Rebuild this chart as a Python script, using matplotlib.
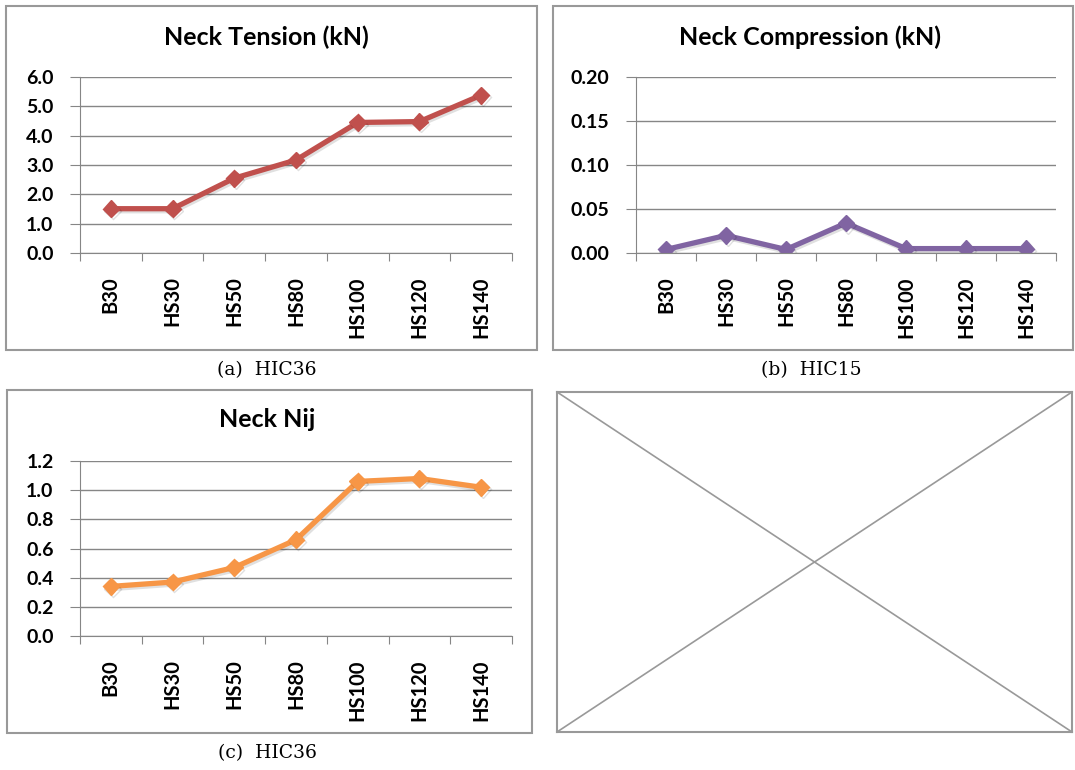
import numpy as np
import matplotlib
matplotlib.use("Agg")
import matplotlib.pyplot as plt
import matplotlib.patheffects as pe
from matplotlib.patches import Rectangle

# data
categories = ["B30", "HS30", "HS50", "HS80", "HS100", "HS120", "HS140"]
tension = [1.51, 1.51, 2.55, 3.17, 4.45, 4.48, 5.38]
compression = [0.004, 0.020, 0.004, 0.034, 0.005, 0.005, 0.005]
nij = [0.34, 0.37, 0.47, 0.66, 1.06, 1.08, 1.02]

W, H = 1075, 770
GRID = "#868686"
BOX = "#999999"
TFONT = "Lato"
CFONT = "DejaVu Serif"

fig = plt.figure(figsize=(W / 100, H / 100), dpi=100)


def px_rect(x0, y0, x1, y1):
    # pixel box (top-left origin) -> figure fraction
    return [x0 / W, 1 - y1 / H, (x1 - x0) / W, (y1 - y0) / H]


def frame(x0, y0, x1, y1):
    fig.patches.append(Rectangle((x0 / W, 1 - y1 / H), (x1 - x0) / W, (y1 - y0) / H,
                                 transform=fig.transFigure, fill=False,
                                 edgecolor=BOX, lw=1.5))


def panel(rect, values, yticks, fmt, color, title, title_xy, caption, cap_xy):
    ax = fig.add_axes(px_rect(*rect))
    x = np.arange(len(categories))
    ax.plot(x, values, color=color, lw=3.8, marker="D", ms=8.5,
            path_effects=[pe.SimpleLineShadow(offset=(1.2, -1.5), shadow_color="k", alpha=0.12),
                          pe.Normal()])
    ax.set_xlim(-0.5, len(categories) - 0.5)
    ax.set_ylim(yticks[0], yticks[-1])
    ax.set_yticks(yticks)
    ax.set_yticklabels([fmt % v for v in yticks], fontfamily=TFONT,
                       fontweight="bold", fontsize=14)
    ax.set_xticks(np.arange(-0.5, len(categories)))
    ax.set_xticklabels([])
    ax.set_xticks(x, minor=True)
    ax.set_xticklabels(categories, minor=True, rotation=90, fontfamily=TFONT,
                       fontweight="bold", fontsize=14.5, va="top")
    ax.tick_params(axis="x", which="minor", length=0, pad=17)
    ax.tick_params(axis="x", which="major", length=6, color=GRID, direction="out")
    ax.tick_params(axis="y", length=7, color=GRID, direction="out", pad=12)
    ax.grid(axis="y", color=GRID, lw=1)
    ax.set_axisbelow(True)
    for s in ["top", "right"]:
        ax.spines[s].set_visible(False)
    for s in ["left", "bottom"]:
        ax.spines[s].set_color(GRID)
    ax.set_facecolor("none")
    fig.text(title_xy[0] / W, 1 - title_xy[1] / H, title, ha="center", va="center",
             fontfamily=TFONT, fontweight="bold", fontsize=18)
    fig.text(cap_xy[0] / W, 1 - cap_xy[1] / H, caption, ha="center", va="center",
             fontfamily=CFONT, fontsize=13.5)
    return ax


frame(6, 6, 537, 350)
panel((80, 77, 512, 253), tension, np.arange(0, 6.01, 1.0), "%.1f", "#C0504D",
      "Neck Tension (kN)", (266, 37), "(a)  HIC36", (267, 370))

frame(553, 6, 1073, 350)
panel((636, 77, 1056, 253), compression, np.arange(0, 0.201, 0.05), "%.2f", "#8064A2",
      "Neck Compression (kN)", (810, 37), "(b)  HIC15", (811, 370))

frame(7, 390, 532, 733)
panel((80, 461, 512, 636), nij, np.arange(0, 1.21, 0.2), "%.1f", "#F79646",
      "Neck Nij", (267, 420), "(c)  HIC36", (267, 753))

# empty placeholder panel
axd = fig.add_axes(px_rect(557, 392, 1072, 732))
axd.plot([0, 1], [1, 0], color=BOX, lw=1.2)
axd.plot([0, 1], [0, 1], color=BOX, lw=1.2)
axd.set_xlim(0, 1)
axd.set_ylim(0, 1)
axd.set_xticks([])
axd.set_yticks([])
for s in axd.spines.values():
    s.set_color(BOX)
    s.set_linewidth(1.5)

fig.savefig("out.png", dpi=100)
